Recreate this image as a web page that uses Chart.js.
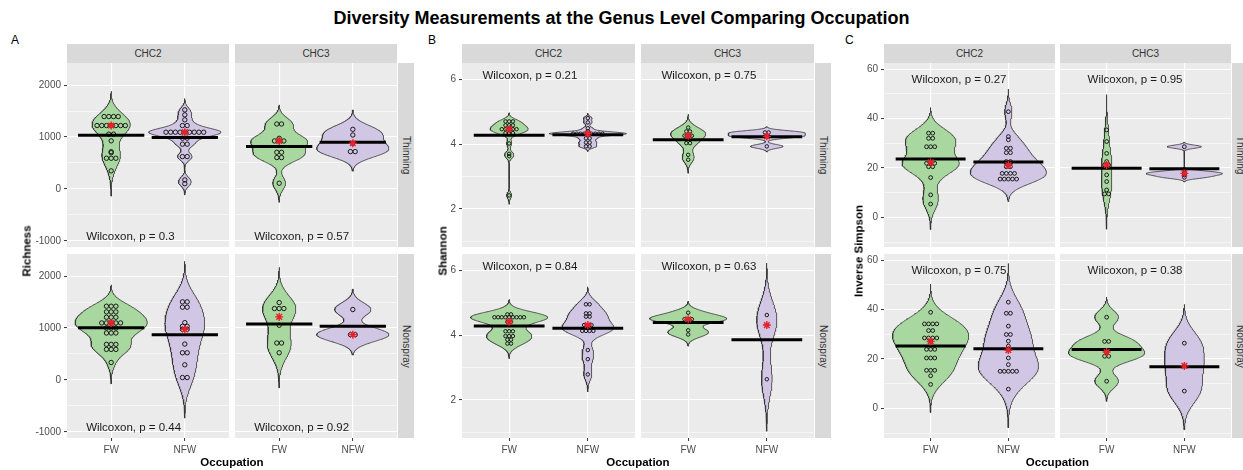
<!DOCTYPE html>
<html>
<head>
<meta charset="utf-8">
<title>Diversity Measurements at the Genus Level Comparing Occupation</title>
<script src="https://cdn.jsdelivr.net/npm/chart.js@4.4.1/dist/chart.umd.min.js"></script>
<style>
  html, body { margin: 0; padding: 0; background: #fff; }
  body { position: relative; width: 1243px; height: 470px; overflow: hidden;
         font-family: "Liberation Sans", Arial, Helvetica, sans-serif; }
  .facet { position: absolute; }
  .strip { position: absolute; background: #d9d9d9; color: #333; font-size: 10px;
           display: flex; align-items: center; justify-content: center; overflow: hidden; }
  .strip.right { writing-mode: vertical-rl; }
  .title { position: absolute; left: 0; width: 1243px; top: 8px; line-height: 20px; text-align: center;
           font-weight: bold; font-size: 18px; color: #000; }
  .letter { position: absolute; top: 33px; line-height: 14px; font-size: 12px; color: #000; }
  .xtitle, .ytitle { position: absolute; font-weight: bold; font-size: 11.5px; color: #000;
                     white-space: nowrap; line-height: 13px; }
  .xtitle { transform: translate(-50%, -50%); }
  .ytitle { transform: translate(-50%, -50%) rotate(-90deg); }
</style>
</head>
<body>
<div class="title">Diversity Measurements at the Genus Level Comparing Occupation</div>
<script>
// ---- categories ----
const occupations = ['FW', 'NFW'];
const sites = ['CHC2', 'CHC3'];
const treatments = ['Thinning', 'Nonspray'];

// ---- Richness (per sample) ----
const richThinChc2Fw = [1393, 1393, 1393, 1393, 1220, 1220, 1220, 1220, 1220, 1220, 1220,
                        1054, 1054, 925, 716, 696, 590, 590, 590, 347];
const richThinChc2Nfw = [1522, 1426, 1330, 1220, 1220, 1092, 1092, 1092, 1092, 1092, 1092,
                         1092, 1092, 1092, 977, 977, 861, 861, 622, 622, 173, 100];
const richThinChc3Fw = [1250, 1250, 974, 923, 923, 923, 705, 705, 603, 603, 109];
const richThinChc3Nfw = [1147, 1038, 878, 718, 718];
const richNonChc2Fw = [1419, 1419, 1419, 1310, 1310, 1310, 1206, 1206, 1206, 1097, 1097,
                       1097, 1097, 1097, 1000, 1000, 1000, 903, 903, 903, 684, 684, 684,
                       587, 587, 587, 335];
const richNonChc2Nfw = [1503, 1503, 1400, 1400, 1103, 1032, 1032, 974, 974, 690, 522, 522,
                        290, 45, 45];
const richNonChc3Fw = [1490, 1374, 1374, 1374, 1052, 710, 710, 522];
const richNonChc3Nfw = [1355, 871, 871];

// ---- Shannon (per sample) ----
const shanThinChc2Fw = [4.70, 4.70, 4.70, 4.58, 4.58, 4.58, 4.46, 4.46, 4.46, 4.46, 4.46,
                        4.34, 4.34, 4.34, 4.02, 3.70, 3.63, 2.42];
const shanThinChc2Nfw = [4.80, 4.67, 4.49, 4.40, 4.32, 4.32, 4.32, 4.32, 4.32, 4.32, 4.32,
                         4.32, 4.32, 4.18, 4.18, 4.05, 4.05, 3.93, 3.93];
const shanThinChc3Fw = [4.51, 4.39, 4.39, 4.26, 4.26, 4.26, 4.03, 4.03, 3.67, 3.52];
const shanThinChc3Nfw = [4.36, 4.36, 4.24, 4.24, 3.93];
const shanNonChc2Fw = [4.64, 4.64, 4.55, 4.55, 4.55, 4.55, 4.55, 4.55, 4.55, 4.55, 4.55,
                       4.41, 4.41, 4.12, 4.12, 4.12, 3.97, 3.97, 3.97, 3.86, 3.86, 3.74, 3.74];
const shanNonChc2Nfw = [4.95, 4.95, 4.67, 4.67, 4.57, 4.57, 4.31, 4.31, 4.31, 4.13, 4.13,
                        4.13, 4.13, 3.54, 3.26, 2.79];
const shanNonChc3Fw = [4.69, 4.49, 4.49, 4.49, 4.15, 4.02];
const shanNonChc3Nfw = [4.62, 4.31, 2.64];

// ---- Inverse Simpson (per sample) ----
const invThinChc2Fw = [34.1, 34.1, 32.0, 32.0, 28.6, 28.6, 28.6, 22.6, 21.9, 21.9, 21.9,
                       20.5, 20.5, 16.1, 9.1, 5.4];
const invThinChc2Nfw = [42.8, 32.7, 31.4, 28.0, 28.0, 26.2, 26.2, 22.6, 22.6, 21.9, 21.9,
                        20.5, 20.5, 17.8, 17.8, 17.8, 17.8, 15.5, 15.5, 15.5, 15.5, 15.5];
const invThinChc3Fw = [35.4, 30.7, 25.9, 22.6, 21.2, 21.2, 17.2, 14.5, 11.1, 9.5, 9.5];
const invThinChc3Nfw = [28.6, 18.5, 17.8, 17.2, 16.2];
const invNonChc2Fw = [38.9, 34.2, 34.2, 34.2, 34.2, 31.5, 31.5, 28.5, 28.5, 28.5, 28.5,
                      27.1, 23.9, 23.9, 23.9, 20.4, 20.4, 20.4, 15.4, 15.4, 15.4, 13.2, 9.7];
const invNonChc2Nfw = [43.0, 38.5, 38.5, 33.3, 29.9, 29.9, 27.2, 25.2, 23.6, 20.4, 17.7,
                       15.0, 15.0, 15.0, 15.0, 15.0, 7.8];
const invNonChc3Fw = [36.9, 27.1, 27.1, 22.8, 21.1, 21.1, 11.0];
const invNonChc3Nfw = [26.4, 17.2, 7.0];

// ---- axis ticks ----
const richnessTicks = [-1000, 0, 1000, 2000];
const shannonTicks = [2, 4, 6];
const invSimpsonTicks = [0, 20, 40, 60];

// ---- Wilcoxon p-values, [treatment][site] ----
const richnessP = [['0.3', '0.57'], ['0.44', '0.92']];
const shannonP = [['0.21', '0.75'], ['0.84', '0.63']];
const invSimpsonP = [['0.27', '0.95'], ['0.75', '0.38']];

// ---- layout and style ----
const FONT = '"Liberation Sans", Arial, Helvetica, sans-serif';
Chart.defaults.font.family = FONT;

const ROW_TOP = [63, 254];
const ROW_H = 184;
const STRIP_TOP = 44, STRIP_H = 19, RSTRIP_W = 16;
const Y_AXIS_W = 45, X_AXIS_H = 24;
const HALF_W = 0.49;
const FILLS = ['rgb(168, 216, 160)', 'rgb(210, 198, 229)'];

const panels = [
  { letter: 'A', letterX: 11, yTitle: 'Richness', yTitleX: 27,
    ticks: richnessTicks, yMin: -1120, yMax: 2425,
    groups: [[[richThinChc2Fw, richThinChc2Nfw], [richThinChc3Fw, richThinChc3Nfw]],
             [[richNonChc2Fw, richNonChc2Nfw], [richNonChc3Fw, richNonChc3Nfw]]],
    pLabels: richnessP, labelX: 0.66, labelY: -930,
    x0: 67, colW: 162, gap: 6, dotStep: 0.064, dotR: 2.2 },
  { letter: 'B', letterX: 428, yTitle: 'Shannon', yTitleX: 443,
    ticks: shannonTicks, yMin: 0.83, yMax: 6.5,
    groups: [[[shanThinChc2Fw, shanThinChc2Nfw], [shanThinChc3Fw, shanThinChc3Nfw]],
             [[shanNonChc2Fw, shanNonChc2Nfw], [shanNonChc3Fw, shanNonChc3Nfw]]],
    pLabels: shannonP, labelX: 0.66, labelY: 6.09,
    x0: 462, colW: 173, gap: 6, dotStep: 0.047, dotR: 1.75 },
  { letter: 'C', letterX: 845, yTitle: 'Inverse Simpson', yTitleX: 859,
    ticks: invSimpsonTicks, yMin: -12, yMax: 62.5,
    groups: [[[invThinChc2Fw, invThinChc2Nfw], [invThinChc3Fw, invThinChc3Nfw]],
             [[invNonChc2Fw, invNonChc2Nfw], [invNonChc3Fw, invNonChc3Nfw]]],
    pLabels: invSimpsonP, labelX: 0.755, labelY: 55.7,
    x0: 884, colW: 171, gap: 5, dotStep: 0.053, dotR: 1.9 }
];

// ---- statistics ----
function summary(v) {
  const s = [...v].sort((a, b) => a - b);
  const n = s.length;
  const mean = s.reduce((a, b) => a + b, 0) / n;
  const median = n % 2 ? s[(n - 1) / 2] : (s[n / 2 - 1] + s[n / 2]) / 2;
  return { mean, median };
}

// Silverman's rule of thumb (R's bw.nrd0)
function bandwidth(v) {
  const n = v.length;
  const s = [...v].sort((a, b) => a - b);
  const mean = s.reduce((a, b) => a + b, 0) / n;
  const sd = Math.sqrt(s.reduce((a, b) => a + (b - mean) ** 2, 0) / (n - 1));
  const q = p => { const h = (n - 1) * p, lo = Math.floor(h), hi = Math.min(lo + 1, n - 1);
                   return s[lo] + (h - lo) * (s[hi] - s[lo]); };
  let lo = Math.min(sd, (q(0.75) - q(0.25)) / 1.34);
  if (!(lo > 0)) lo = sd || Math.abs(s[0]) || 1;
  return 0.9 * lo * Math.pow(n, -0.2);
}

// Gaussian kernel density, evaluated 3 bandwidths past the data on each side
function kde(v) {
  const bw = bandwidth(v);
  const lo = Math.min(...v) - 3 * bw, hi = Math.max(...v) + 3 * bw;
  const N = 220, ys = [], dens = [];
  const norm = v.length * bw * Math.sqrt(2 * Math.PI);
  for (let k = 0; k < N; k++) {
    const y = lo + (hi - lo) * k / (N - 1);
    let d = 0;
    for (const x of v) d += Math.exp(-0.5 * ((y - x) / bw) ** 2);
    ys.push(y);
    dens.push(d / norm);
  }
  return { ys, dens };
}

// centred dot stacks: equal values sit side by side
function dotPoints(values, center, step) {
  const counts = new Map();
  values.forEach(v => counts.set(v, (counts.get(v) || 0) + 1));
  const pts = [];
  counts.forEach((k, v) => {
    for (let i = 0; i < k; i++) pts.push({ x: center + (i - (k - 1) / 2) * step, y: v });
  });
  return pts;
}

function minorTicks(major, lo, hi) {
  const step = major[1] - major[0];
  const out = major.map(m => m - step / 2);
  out.push(major[major.length - 1] + step / 2);
  return out.filter(v => v >= lo && v <= hi);
}

const panelBg = {
  id: 'panelBg',
  beforeDraw(chart) {
    const { ctx, chartArea: a } = chart;
    ctx.save();
    ctx.fillStyle = '#ebebeb';
    ctx.fillRect(a.left, a.top, a.right - a.left, a.bottom - a.top);
    ctx.restore();
  }
};

function addDiv(cls, text, css) {
  const d = document.createElement('div');
  d.className = cls;
  d.textContent = text;
  Object.assign(d.style, css);
  document.body.appendChild(d);
  return d;
}

function makeFacet(P, ri, ci) {
  const left = ci === 0, bottom = ri === 1;
  const box = document.createElement('div');
  box.className = 'facet';
  const w = P.colW + (left ? Y_AXIS_W : 0);
  const h = ROW_H + (bottom ? X_AXIS_H : 0);
  Object.assign(box.style, {
    left: (P.x0 + ci * (P.colW + P.gap) - (left ? Y_AXIS_W : 0)) + 'px',
    top: ROW_TOP[ri] + 'px', width: w + 'px', height: h + 'px'
  });
  const canvas = document.createElement('canvas');
  box.appendChild(canvas);
  document.body.appendChild(box);

  const pair = P.groups[ri][ci];
  const dens = pair.map(v => kde(v));
  const peak = Math.max(...dens.map(d => Math.max(...d.dens)));
  const datasets = [];

  pair.forEach((vals, gi) => {
    const c = gi + 1;
    const d = dens[gi];
    const outline = [];
    for (let k = 0; k < d.ys.length; k++)
      outline.push({ x: c + HALF_W * d.dens[k] / peak, y: d.ys[k] });
    for (let k = d.ys.length - 1; k >= 0; k--)
      outline.push({ x: c - HALF_W * d.dens[k] / peak, y: d.ys[k] });
    outline.push({ x: outline[0].x, y: outline[0].y });

    datasets.push({ type: 'line', data: outline, order: 4, fill: 'shape',
      backgroundColor: FILLS[gi], borderColor: '#333', borderWidth: 0.8,
      pointRadius: 0, tension: 0 });
    datasets.push({ type: 'scatter', data: dotPoints(vals, c, P.dotStep), order: 3,
      pointRadius: P.dotR, pointBackgroundColor: 'rgba(0,0,0,0)',
      pointBorderColor: '#1a1a1a', pointBorderWidth: 1 });
    const s = summary(vals);
    datasets.push({ type: 'line', data: [{ x: c - 0.45, y: s.mean }, { x: c + 0.45, y: s.mean }],
      order: 2, borderColor: '#000', borderWidth: 3, pointRadius: 0, fill: false,
      borderCapStyle: 'butt' });
    datasets.push({ type: 'scatter', data: [{ x: c, y: s.median }], order: 1,
      pointStyle: 'star', pointRadius: 4, pointBorderColor: '#e8222a',
      pointBorderWidth: 1.4, pointBackgroundColor: '#e8222a' });
  });

  const isMajor = v => P.ticks.includes(v);
  const allTicks = [...P.ticks, ...minorTicks(P.ticks, P.yMin, P.yMax)].sort((a, b) => a - b);
  const labelText = 'Wilcoxon, p = ' + P.pLabels[ri][ci];

  const wilcox = {
    id: 'wilcox',
    afterDatasetsDraw(chart) {
      const { ctx, scales } = chart;
      ctx.save();
      ctx.font = '11.5px ' + FONT;
      ctx.fillStyle = '#1a1a1a';
      ctx.textAlign = 'left';
      ctx.textBaseline = 'middle';
      ctx.fillText(labelText, scales.x.getPixelForValue(P.labelX), scales.y.getPixelForValue(P.labelY));
      ctx.restore();
    }
  };

  new Chart(canvas, {
    type: 'scatter',
    data: { datasets },
    options: {
      responsive: true, maintainAspectRatio: false, animation: false, devicePixelRatio: 1,
      events: [],
      layout: { padding: 0, autoPadding: false },
      plugins: { legend: { display: false }, tooltip: { enabled: false } },
      scales: {
        x: {
          type: 'linear', min: 0.4, max: 2.6,
          afterBuildTicks: sc => { sc.ticks = [{ value: 1 }, { value: 2 }]; },
          afterFit: sc => { sc.height = bottom ? X_AXIS_H : 0; sc.paddingLeft = 0; sc.paddingRight = 0; },
          ticks: { display: bottom, autoSkip: false, maxRotation: 0, padding: 3,
                   color: '#4d4d4d', font: { size: 10 }, callback: v => occupations[v - 1] },
          grid: { color: '#fff', lineWidth: 1.1, drawTicks: bottom, tickLength: 3,
                  tickColor: '#333', tickWidth: 1 },
          border: { display: false }
        },
        y: {
          type: 'linear', min: P.yMin, max: P.yMax,
          afterBuildTicks: sc => { sc.ticks = allTicks.map(v => ({ value: v })); },
          afterFit: sc => { sc.width = left ? Y_AXIS_W : 0; sc.paddingTop = 0; sc.paddingBottom = 0; },
          ticks: { display: left, autoSkip: false, padding: 3, color: '#4d4d4d',
                   font: { size: 10 }, callback: v => isMajor(v) ? String(v) : '' },
          grid: { color: '#fff',
                  lineWidth: ctx => (ctx.tick && isMajor(ctx.tick.value)) ? 1.1 : 0.55,
                  drawTicks: left, tickLength: 3, tickWidth: 1,
                  tickColor: ctx => (ctx.tick && isMajor(ctx.tick.value)) ? '#333' : 'rgba(0,0,0,0)' },
          border: { display: false }
        }
      }
    },
    plugins: [panelBg, wilcox]
  });
}

panels.forEach(P => {
  addDiv('letter', P.letter, { left: P.letterX + 'px' });
  sites.forEach((site, ci) => {
    addDiv('strip', site, {
      left: (P.x0 + ci * (P.colW + P.gap)) + 'px', top: STRIP_TOP + 'px',
      width: P.colW + 'px', height: STRIP_H + 'px'
    });
  });
  treatments.forEach((t, ri) => {
    addDiv('strip right', t, {
      left: (P.x0 + 2 * P.colW + P.gap + 1) + 'px', top: ROW_TOP[ri] + 'px',
      width: RSTRIP_W + 'px', height: ROW_H + 'px'
    });
  });
  for (let ri = 0; ri < 2; ri++)
    for (let ci = 0; ci < 2; ci++) makeFacet(P, ri, ci);
  addDiv('ytitle', P.yTitle, { left: P.yTitleX + 'px', top: (ROW_TOP[0] + ROW_TOP[1] + ROW_H) / 2 + 'px' });
  addDiv('xtitle', 'Occupation', { left: (P.x0 + P.colW + P.gap / 2) + 'px', top: '462px' });
});
</script>
</body>
</html>
